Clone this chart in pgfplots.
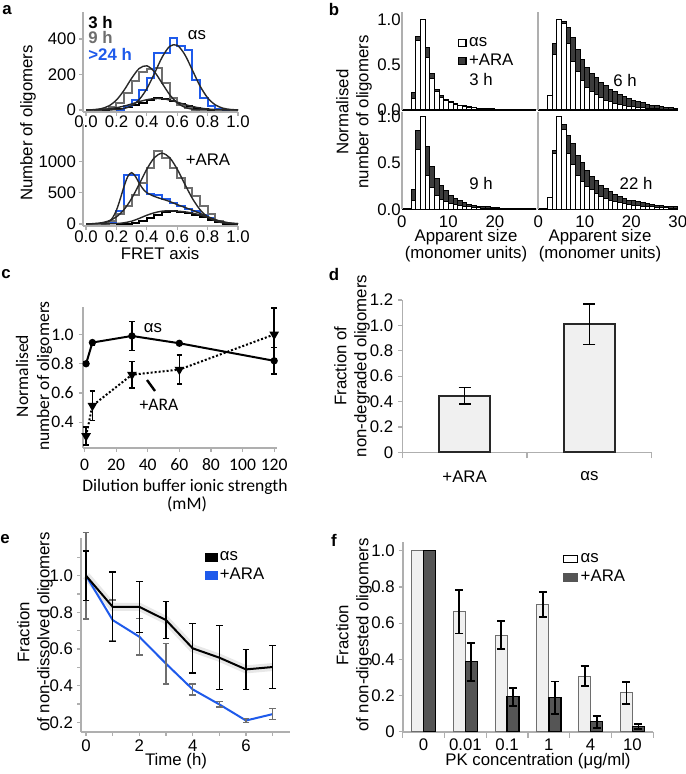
\documentclass[border=0pt]{standalone}
\usepackage{fontspec}
\setmainfont{Liberation Sans}
\newfontfamily\calib{Carlito}
\usepackage{pgfplots}
\pgfplotsset{compat=1.18}
\definecolor{axgray}{RGB}{175,175,175}
\definecolor{bluec}{RGB}{30,90,235}
\definecolor{grayc}{RGB}{110,110,110}
\definecolor{darkbar}{RGB}{60,60,60}
\definecolor{fdark}{RGB}{85,85,85}
\definecolor{lightbar}{RGB}{240,240,240}
\definecolor{edged}{RGB}{40,40,40}
\newcommand\fs{\fontsize{8.4}{10}\selectfont}
\newcommand\cfs{\calib\fontsize{8.8}{10.5}\selectfont}
\pgfplotsset{
  every axis/.append style={
    scale only axis, anchor=south west,
    axis x line*=bottom, axis y line*=left,
    axis line style={-, draw=axgray, line width=0.8pt},
    tick style={draw=axgray, line width=0.6pt},
    tick align=outside, major tick length=2pt,
    font=\fs, tick label style={font=\fs},
    /pgf/number format/assume math mode=true,
    /pgf/number format/1000 sep={},
  },
  onedecx/.style={xticklabel style={/pgf/number format/fixed, /pgf/number format/precision=1, /pgf/number format/fixed zerofill}},
  onedecy/.style={yticklabel style={/pgf/number format/fixed, /pgf/number format/precision=1, /pgf/number format/fixed zerofill}},
  bpan/.style={xmin=0, ymin=0,
    x axis line style={draw=black, line width=1.1pt},
    y axis line style={draw=axgray, line width=0.9pt},
    xtick style={draw=none}, ytick style={draw=none},
    xticklabel style={yshift=2.5pt}, yticklabel style={xshift=5pt}},
  barA/.style={ybar, bar width=1, bar shift=0pt, fill=darkbar, draw=black, line width=0.5pt, forget plot},
  barS/.style={ybar, bar width=1, bar shift=0pt, fill=white, draw=black, line width=0.5pt, forget plot},
  eb/.style n args={3}{error bars/.cd, y dir=both, y explicit,
    error bar style={draw=#1, line width=#2, solid},
    error mark options={draw=#1, line width=#2, mark size=#3, rotate=90, solid}},
}
\begin{document}
\begin{tikzpicture}[x=0.5pt,y=-0.5pt]
\useasboundingbox (0,0) rectangle (685,774);

% ================= panel a, top =================
\begin{axis}[at={(41.5pt,-55.9pt)}, width=77.5pt, height=49.7pt,
  xmin=-0.02, xmax=1.0, ymin=-10, ymax=550,
  xtick={0,0.2,0.4,0.6,0.8,1}, ytick={0,200,400}, onedecx,
  xticklabel style={yshift=3.5pt}, yticklabel style={xshift=2pt}]
\addplot[const plot, draw=black, line width=1pt] coordinates {(0.10,0) (0.15,3) (0.20,8) (0.25,15) (0.30,28) (0.35,42) (0.40,56) (0.45,68) (0.50,64) (0.55,50) (0.60,35) (0.65,20) (0.70,10) (0.75,4) (0.80,0) (0.85,0)};
\addplot[const plot, draw=grayc, line width=1pt] coordinates {(0.05,0) (0.10,5) (0.15,15) (0.20,40) (0.25,95) (0.30,165) (0.35,215) (0.40,230) (0.45,235) (0.50,150) (0.55,70) (0.60,30) (0.65,10) (0.70,0) (0.75,0)};
\addplot[const plot, draw=bluec, line width=1pt] coordinates {(0.20,0) (0.25,20) (0.30,56) (0.35,113) (0.40,178) (0.45,319) (0.50,319) (0.55,404) (0.60,360) (0.65,340) (0.70,170) (0.75,66) (0.80,20) (0.85,5) (0.90,0) (0.95,0)};
\addplot[smooth, draw=edged, line width=0.7pt] coordinates {(0,0.5) (0.05,1.3) (0.1,3.1) (0.15,6.7) (0.2,12.9) (0.25,22.2) (0.3,34.2) (0.35,47.2) (0.4,58.3) (0.45,64.4) (0.5,63.7) (0.55,56.4) (0.6,44.6) (0.65,31.6) (0.7,20.1) (0.75,11.4) (0.8,5.8) (0.85,2.6) (0.9,1.1) (0.95,0.4) (1,0.1)};
\addplot[smooth, draw=edged, line width=0.7pt] coordinates {(0,0.5) (0.05,2.1) (0.1,7.7) (0.15,23.2) (0.2,56.2) (0.25,111.2) (0.3,178.8) (0.35,234) (0.4,249) (0.45,215.5) (0.5,151.6) (0.55,86.8) (0.6,40.4) (0.65,15.3) (0.7,4.7) (0.75,1.2) (0.8,0.2) (0.85,0) (0.9,0) (0.95,0) (1,0)};
\addplot[smooth, draw=edged, line width=0.7pt] coordinates {(0,0) (0.05,0) (0.1,0.1) (0.15,0.6) (0.2,2.5) (0.25,8.4) (0.3,24.3) (0.35,58.9) (0.4,120.1) (0.45,205.7) (0.5,296.3) (0.55,358.6) (0.6,364.9) (0.65,312.1) (0.7,224.4) (0.75,135.6) (0.8,68.9) (0.85,29.4) (0.9,10.6) (0.95,3.2) (1,0.8)};
\end{axis}

% ================= panel a, bottom =================
\begin{axis}[at={(41.5pt,-112.95pt)}, width=77.5pt, height=51.05pt,
  xmin=-0.02, xmax=1.0, ymin=-30, ymax=1600,
  xtick={0,0.2,0.4,0.6,0.8,1}, ytick={0,500,1000}, onedecx,
  xticklabel style={yshift=3pt}, yticklabel style={xshift=2pt}]
\addplot[const plot, draw=bluec, line width=1pt] coordinates {(0.10,0) (0.15,30) (0.20,200) (0.25,790) (0.30,790) (0.35,650) (0.40,480) (0.45,460) (0.50,400) (0.55,340) (0.60,280) (0.65,240) (0.70,200) (0.75,150) (0.80,90) (0.85,40) (0.90,0) (0.95,0)};
\addplot[const plot, draw=grayc, line width=1pt] coordinates {(0.10,0) (0.15,46) (0.20,152) (0.25,285) (0.30,470) (0.35,657) (0.40,897) (0.45,1170) (0.50,1057) (0.55,897) (0.60,737) (0.65,578) (0.70,444) (0.75,285) (0.80,152) (0.85,46) (0.90,0) (0.95,0)};
\addplot[const plot, draw=black, line width=1pt] coordinates {(0.20,0) (0.25,8) (0.30,20) (0.35,50) (0.40,100) (0.45,150) (0.50,190) (0.55,200) (0.60,185) (0.65,170) (0.70,150) (0.75,110) (0.80,60) (0.85,25) (0.90,5) (0.95,0) (1.0,0)};
\addplot[smooth, draw=edged, line width=0.7pt] coordinates {(0,1.9) (0.05,6.4) (0.1,19) (0.15,49.6) (0.2,113.8) (0.25,229.5) (0.3,407.5) (0.35,636.5) (0.4,875.6) (0.45,1060) (0.5,1130) (0.55,1060) (0.6,875.6) (0.65,636.5) (0.7,407.5) (0.75,229.5) (0.8,113.8) (0.85,49.6) (0.9,19) (0.95,6.4) (1,1.9)};
\addplot[smooth, draw=edged, line width=0.7pt] coordinates {(0,2) (0.05,4) (0.1,12) (0.15,40) (0.175,100) (0.2,220) (0.225,400) (0.25,600) (0.275,760) (0.3,820) (0.325,760) (0.35,650) (0.375,560) (0.4,500) (0.45,440) (0.5,400) (0.55,360) (0.6,310) (0.65,265) (0.7,220) (0.75,170) (0.8,120) (0.85,70) (0.9,35) (0.95,14) (1,5)};
\addplot[smooth, draw=edged, line width=0.7pt] coordinates {(0,0) (0.1,2) (0.2,8) (0.25,20) (0.3,45) (0.35,90) (0.4,140) (0.45,180) (0.5,205) (0.55,212) (0.6,205) (0.65,195) (0.7,175) (0.75,145) (0.8,105) (0.85,65) (0.9,35) (0.95,15) (1,5)};
\end{axis}

\node[font=\bfseries\fs] at (7,10) {a};
\node[anchor=west, inner sep=0pt, font=\bfseries\fs] at (88,23) {3 h};
\node[anchor=west, inner sep=0pt, font=\bfseries\fs, text=grayc] at (88,38) {9 h};
\node[anchor=west, inner sep=0pt, font=\bfseries\fs, text=bluec] at (88,54) {>24 h};
\node[font=\fs] at (197,35) {αs};
\node[font=\fs] at (208,160) {+ARA};
\node[rotate=90, font=\fs] at (28,123) {Number of oligomers};
\node[font=\fs] at (160,253) {FRET axis};

% ================= panel b =================
\begin{axis}[at={(200.85pt,-55pt)}, width=67.15pt, height=49.15pt, bpan,
  xmax=28.8, ymax=1.09, xtick=\empty, ytick={0,0.5,1}, onedecy,
  legend style={at={(0.415,0.77)}, anchor=north west, draw=none, fill=none, inner sep=0pt, font=\fs, row sep=0pt, nodes={inner sep=1.2pt}},
  legend cell align=left,
  legend image code/.code={\draw[#1, line width=0.6pt] (0pt,-1.8pt) rectangle (3.8pt,1.8pt);}]
\addlegendimage{fill=white, draw=black}\addlegendentry{αs}
\addlegendimage{fill=darkbar, draw=black}\addlegendentry{+ARA}
\addplot[barA] coordinates {(2.5,0.19)(3.5,0.81)(4.5,0.95)(5.5,0.69)(6.5,0.41)(7.5,0.23)(8.5,0.16)(9.5,0.12)(10.5,0.09)(11.5,0.07)(12.5,0.055)(13.5,0.045)(14.5,0.035)(15.5,0.028)(16.5,0.022)(17.5,0.018)(18.5,0.015)(19.5,0.012)(20.5,0.01)(21.5,0.009)(22.5,0.008)(23.5,0.007)(24.5,0.006)(25.5,0.005)(26.5,0.005)(27.5,0.004)(28.5,0.004)};
\addplot[barS] coordinates {(2.5,0.13)(3.5,0.77)(4.5,1.0)(5.5,0.58)(6.5,0.35)(7.5,0.20)(8.5,0.14)(9.5,0.10)(10.5,0.08)(11.5,0.06)(12.5,0.05)(13.5,0.04)(14.5,0.03)(15.5,0.025)(16.5,0.02)(17.5,0.016)(18.5,0.013)(19.5,0.011)(20.5,0.009)(21.5,0.008)(22.5,0.007)(23.5,0.006)(24.5,0.005)(25.5,0.005)(26.5,0.004)(27.5,0.004)(28.5,0.003)};
\end{axis}
\begin{axis}[at={(269.15pt,-55pt)}, width=69.75pt, height=49.15pt, bpan,
  xmax=30, ymax=1.09, xtick=\empty, ytick=\empty]
\addplot[barA] coordinates {(2.5,0.15)(3.5,0.74)(4.5,0.95)(5.5,0.98)(6.5,0.91)(7.5,0.80)(8.5,0.67)(9.5,0.56)(10.5,0.47)(11.5,0.41)(12.5,0.36)(13.5,0.31)(14.5,0.27)(15.5,0.23)(16.5,0.20)(17.5,0.17)(18.5,0.15)(19.5,0.13)(20.5,0.11)(21.5,0.095)(22.5,0.08)(23.5,0.065)(24.5,0.055)(25.5,0.045)(26.5,0.04)(27.5,0.032)(28.5,0.026)(29.5,0.02)};
\addplot[barS] coordinates {(2.5,0.16)(3.5,0.61)(4.5,1.0)(5.5,0.96)(6.5,0.74)(7.5,0.54)(8.5,0.43)(9.5,0.33)(10.5,0.25)(11.5,0.20)(12.5,0.17)(13.5,0.14)(14.5,0.11)(15.5,0.09)(16.5,0.07)(17.5,0.06)(18.5,0.05)(19.5,0.04)(20.5,0.035)(21.5,0.03)(22.5,0.025)(23.5,0.02)(24.5,0.016)(25.5,0.013)(26.5,0.011)(27.5,0.009)(28.5,0.007)(29.5,0.006)};
\end{axis}
\begin{axis}[at={(200.85pt,-104.65pt)}, width=67.15pt, height=48.65pt, bpan,
  xmax=28.8, ymax=1.05, xtick={0,10,20}, ytick={0,0.5,1}, onedecy]
\addplot[barA] coordinates {(2.5,0.21)(3.5,0.855)(4.5,1.0)(5.5,0.675)(6.5,0.46)(7.5,0.33)(8.5,0.26)(9.5,0.20)(10.5,0.15)(11.5,0.12)(12.5,0.09)(13.5,0.07)(14.5,0.055)(15.5,0.045)(16.5,0.035)(17.5,0.03)(18.5,0.025)(19.5,0.02)(20.5,0.017)(21.5,0.014)(22.5,0.012)(23.5,0.01)(24.5,0.008)(25.5,0.007)(26.5,0.006)(27.5,0.005)(28.5,0.004)};
\addplot[barS] coordinates {(2.5,0.10)(3.5,0.64)(4.5,1.0)(5.5,0.37)(6.5,0.24)(7.5,0.15)(8.5,0.11)(9.5,0.08)(10.5,0.06)(11.5,0.05)(12.5,0.04)(13.5,0.03)(14.5,0.025)(15.5,0.02)(16.5,0.016)(17.5,0.013)(18.5,0.011)(19.5,0.009)(20.5,0.008)(21.5,0.007)(22.5,0.006)(23.5,0.005)(24.5,0.004)(25.5,0.004)(26.5,0.003)(27.5,0.003)(28.5,0.003)};
\end{axis}
\begin{axis}[at={(269.15pt,-104.65pt)}, width=69.75pt, height=48.65pt, bpan,
  xmax=30, ymax=1.05, xtick={0,10,20,30}, ytick=\empty]
\addplot[barA] coordinates {(2.5,0.13)(3.5,0.63)(4.5,0.97)(5.5,0.91)(6.5,0.80)(7.5,0.71)(8.5,0.585)(9.5,0.50)(10.5,0.42)(11.5,0.355)(12.5,0.31)(13.5,0.26)(14.5,0.22)(15.5,0.19)(16.5,0.16)(17.5,0.14)(18.5,0.12)(19.5,0.10)(20.5,0.09)(21.5,0.08)(22.5,0.07)(23.5,0.06)(24.5,0.05)(25.5,0.045)(26.5,0.04)(27.5,0.035)(28.5,0.03)(29.5,0.025)};
\addplot[barS] coordinates {(2.5,0.13)(3.5,0.60)(4.5,1.0)(5.5,0.86)(6.5,0.60)(7.5,0.48)(8.5,0.37)(9.5,0.30)(10.5,0.245)(11.5,0.21)(12.5,0.17)(13.5,0.14)(14.5,0.12)(15.5,0.10)(16.5,0.085)(17.5,0.07)(18.5,0.06)(19.5,0.05)(20.5,0.045)(21.5,0.04)(22.5,0.035)(23.5,0.03)(24.5,0.025)(25.5,0.02)(26.5,0.018)(27.5,0.015)(28.5,0.012)(29.5,0.01)};
\end{axis}

\node[font=\bfseries\fs] at (334,10) {b};
\node[rotate=90, align=center, font=\fs] at (354,112) {Normalised\\number of oligomers};
\node[font=\fs] at (481,80) {3 h};
\node[font=\fs] at (625,81) {6 h};
\node[font=\fs] at (481,183) {9 h};
\node[font=\fs] at (636,183) {22 h};
\node[font=\fs] at (466,237) {Apparent size};
\node[font=\fs] at (466,254) {(monomer units)};
\node[font=\fs] at (600,237) {Apparent size};
\node[font=\fs] at (600,254) {(monomer units)};

% ================= panel c =================
\begin{axis}[at={(41.35pt,-223.85pt)}, width=97pt, height=70.5pt,
  xmin=-1.14, xmax=121.6, ymin=0.226, ymax=1.19,
  xtick={0,20,40,60,80,100,120}, ytick={0.4,0.6,0.8,1.0}, onedecy,
  font=\cfs, tick label style={font=\cfs}, yticklabel style={xshift=1pt}, clip=false]
\addplot[black, line width=1pt, mark=*, mark size=1.3pt, eb={black}{0.8pt}{1.4pt}]
  coordinates {(1,0.80) +- (0,0.01) (5,0.945) +- (0,0.015) (30,0.99) +- (0,0.1) (60,0.94) +- (0,0.01) (120,0.82) +- (0,0.09)};
\addplot[black, line width=1pt, densely dotted, mark=triangle*, mark size=1.8pt, mark options={solid, rotate=180}, eb={black}{0.8pt}{1.4pt}]
  coordinates {(1,0.306) +- (0,0.06) (5,0.513) +- (0,0.1) (30,0.725) +- (0,0.09) (60,0.76) +- (0,0.1) (120,1.0) +- (0,0.18)};
\end{axis}
\node[font=\bfseries\fs] at (6,274) {c};
\node[rotate=90, align=center, font=\cfs] at (34,376) {Normalised\\number of oligomers};
\node[font=\cfs] at (185,487) {Dilution buffer ionic strength};
\node[font=\cfs] at (187,504) {(mM)};
\node[font=\fs] at (153,328) {αs};
\node[font=\cfs] at (159,405) {+ARA};
\draw[line width=1.2pt] (147,380) -- (155,391);

% ================= panel d =================
\begin{axis}[at={(201.15pt,-226.15pt)}, width=124.7pt, height=76.15pt,
  xmin=-0.5, xmax=1.5, ymin=0, ymax=1.2,
  xtick={0,1}, xticklabels={+ARA,αs}, major x tick style={draw=none},
  minor xtick={-0.5,0.5,1.5}, minor tick length=3pt,
  ytick={0,0.2,0.4,0.6,0.8,1.0,1.2}, yticklabels={0,0.2,0.4,0.6,0.8,1.0,1.2},
  xticklabel style={yshift=-4pt}, yticklabel style={xshift=1pt}]
\addplot[ybar, bar width=0.405, bar shift=0pt, fill=lightbar, draw=edged, line width=1pt, eb={black}{0.8pt}{3pt}]
  coordinates {(0,0.446) +- (0,0.065) (1,1.008) +- (0,0.16)};
\end{axis}
\node[font=\bfseries\fs] at (334,274) {d};
\node[rotate=90, align=center, font=\fs] at (352,366) {Fraction of\\non-degraded oligomers};

% ================= panel e =================
\begin{axis}[at={(40.5pt,-365.85pt)}, width=104.5pt, height=96.85pt,
  xmin=-0.19, xmax=7.65, ymin=0.149, ymax=1.206,
  xtick={0,2,4,6}, minor xtick={1,3,5,7},
  ytick={0.2,0.4,0.6,0.8,1.0}, minor ytick={0.3,0.5,0.7,0.9,1.1}, onedecy,
  minor tick length=2pt, clip=false, xticklabel style={yshift=1.5pt}, yticklabel style={xshift=1.5pt},
  legend style={at={(0.59,0.945)}, anchor=north west, draw=none, fill=none, inner sep=0pt, font=\fs, row sep=0pt, nodes={inner sep=1.2pt}},
  legend cell align=left,
  legend image code/.code={\fill[#1] (0pt,-1.9pt) rectangle (6pt,1.9pt);}]
\addlegendimage{black}\addlegendentry{αs}
\addlegendimage{bluec}\addlegendentry{+ARA}
\addplot[black!9, line width=4pt, forget plot] coordinates {(0,1.0) (1,0.83) (2,0.83) (3,0.758) (4,0.604) (5,0.553) (6,0.489) (7,0.502)};
\addplot[bluec, line width=1pt, forget plot, eb={grayc}{0.7pt}{1.7pt}]
  coordinates {(0,1.0) +- (0,0.235) (1,0.758) +- (0,0.11) (2,0.667) +- (0,0.1) (3,0.52) +- (0,0.11) (4,0.38) +- (0,0.03) (5,0.298) +- (0,0.015) (6,0.21) +- (0,0.01) (7,0.245) +- (0,0.03)};
\addplot[black, line width=1pt, forget plot, eb={black}{0.7pt}{1.7pt}]
  coordinates {(0,1.0) +- (0,0.135) (1,0.83) +- (0,0.19) (2,0.83) +- (0,0.14) (3,0.758) +- (0,0.1) (4,0.604) +- (0,0.135) (5,0.553) +- (0,0.175) (6,0.489) +- (0,0.11) (7,0.502) +- (0,0.117)};
\end{axis}
\node[font=\bfseries\fs] at (5,539) {e};
\node[rotate=90, align=center, font=\fs] at (35,632) {Fraction\\of non-dissolved oligomers};
\node[font=\fs] at (176,761) {Time (h)};

% ================= panel f =================
\begin{axis}[at={(201.35pt,-365.85pt)}, width=125.3pt, height=95pt,
  xmin=-0.5, xmax=5.5, ymin=0, ymax=1.05,
  xtick={0,1,2,3,4,5}, xticklabels={0,0.01,0.1,1,4,10}, major x tick style={draw=none},
  minor xtick={-0.5,0.5,1.5,2.5,3.5,4.5,5.5}, minor tick length=3pt,
  ytick={0,0.2,0.4,0.6,0.8,1.0}, yticklabels={0,0.2,0.4,0.6,0.8,1.0},
  xticklabel style={yshift=2pt}, yticklabel style={xshift=1.5pt},
  legend style={at={(0.637,0.955)}, anchor=north west, draw=none, fill=none, inner sep=0pt, font=\fs, row sep=0pt, nodes={inner sep=1.2pt}},
  legend cell align=left,
  legend image code/.code={\draw[#1, line width=0.8pt] (0pt,-1.8pt) rectangle (7pt,1.8pt);}]
\addlegendimage{fill=white, draw=black}\addlegendentry{αs}
\addlegendimage{fill=fdark, draw=fdark}\addlegendentry{+ARA}
\addplot[ybar, bar width=6pt, bar shift=-3pt, fill=lightbar, draw=grayc, line width=0.5pt, forget plot]
  coordinates {(0,1.0) (1,0.663) (2,0.534) (3,0.704) (4,0.307) (5,0.215)};
\addplot[ybar, bar width=6pt, bar shift=3pt, fill=fdark, draw=black, line width=0.7pt, forget plot]
  coordinates {(0,1.0) (1,0.387) (2,0.193) (3,0.188) (4,0.055) (5,0.028)};
\addplot[draw=none, mark=none, forget plot, eb={black}{0.9pt}{2pt}]
  coordinates {(0.8564,0.663) +- (0,0.12) (1.8564,0.534) +- (0,0.078) (2.8564,0.704) +- (0,0.068) (3.8564,0.307) +- (0,0.055) (4.8564,0.215) +- (0,0.06)};
\addplot[draw=none, mark=none, forget plot, eb={black}{0.9pt}{2pt}]
  coordinates {(1.1436,0.387) +- (0,0.105) (2.1436,0.193) +- (0,0.05) (3.1436,0.188) +- (0,0.09) (4.1436,0.055) +- (0,0.033) (5.1436,0.028) +- (0,0.014)};
\end{axis}
\node[font=\bfseries\fs] at (334,540) {f};
\node[rotate=90, align=center, font=\fs] at (354,635) {Fraction\\of non-digested oligomers};
\node[font=\fs] at (538,761) {PK concentration (μg/ml)};
\end{tikzpicture}
\end{document}
